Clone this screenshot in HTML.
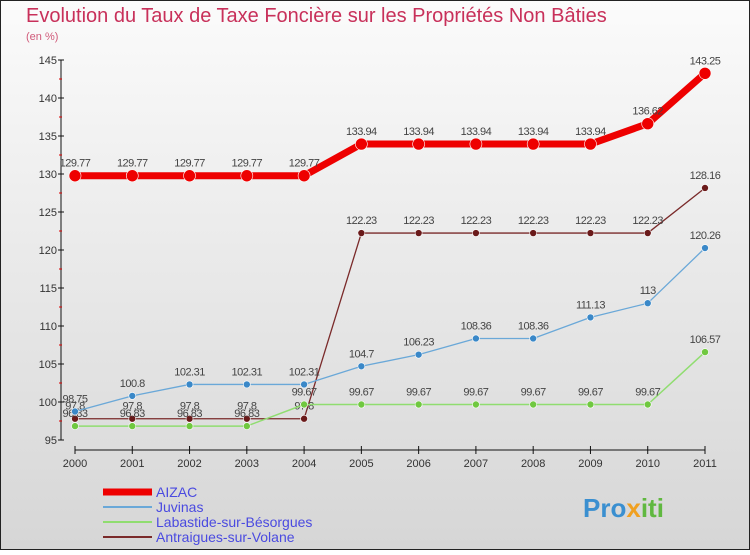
<!DOCTYPE html>
<html><head><meta charset="utf-8"><style>
body{margin:0;}
#c{position:relative;width:750px;height:550px;font-family:"Liberation Sans",sans-serif;}
</style></head><body>
<div id="c">
<svg id="s" width="750" height="550" xmlns="http://www.w3.org/2000/svg">
<defs><linearGradient id="bg" x1="0" y1="0" x2="0" y2="1"><stop offset="0" stop-color="#fbfbfb"/><stop offset="1" stop-color="#d6d6d6"/></linearGradient></defs>
<rect x="0.5" y="0.5" width="749" height="549" fill="url(#bg)" stroke="#222"/>
<text x="26" y="22" font-size="20" fill="#c8305a">Evolution du Taux de Taxe Foncière sur les Propriétés Non Bâties</text>
<text x="26" y="40" font-size="11" fill="#d05a7a">(en %)</text>
<g id="axes"></g><g id="series"></g><g id="legend"></g>
<text x="583" y="517" font-size="26" font-weight="bold" fill="#3a8fd0">Pro<tspan fill="#f0a020">x</tspan><tspan fill="#60b840">iti</tspan></text>
</svg>
</div>
<script>
const years=["2000","2001","2002","2003","2004","2005","2006","2007","2008","2009","2010","2011"];
const aizac=[129.77,129.77,129.77,129.77,129.77,133.94,133.94,133.94,133.94,133.94,136.62,143.25];
const juvinas=[98.75,100.8,102.31,102.31,102.31,104.7,106.23,108.36,108.36,111.13,113,120.26];
const labastide=[96.83,96.83,96.83,96.83,99.67,99.67,99.67,99.67,99.67,99.67,99.67,106.57];
const antraigues=[97.8,97.8,97.8,97.8,97.8,122.23,122.23,122.23,122.23,122.23,122.23,128.16];
const yTicks=[95,100,105,110,115,120,125,130,135,140,145];
const names=["AIZAC","Juvinas","Labastide-sur-Bésorgues","Antraigues-sur-Volane"];
const NS="http://www.w3.org/2000/svg";
const X=i=>75+i*(630/11), Y=v=>440-(v-95)*7.6;
function mk(t,a,p){const e=document.createElementNS(NS,t);for(const k in a)e.setAttribute(k,a[k]);p.appendChild(e);return e;}
const ax=document.getElementById('axes');
let e=mk('line',{x1:61,y1:60,x2:61,y2:440,stroke:'#111'},ax);

e=mk('line',{x1:75,y1:450,x2:705,y2:450,stroke:'#111'},ax);

yTicks.forEach((v,i)=>{mk('line',{x1:58,y1:Y(v),x2:64,y2:Y(v),stroke:'#111'},ax);
 if(i<yTicks.length-1)mk('line',{x1:59,y1:Y(v+2.5),x2:62,y2:Y(v+2.5),stroke:'#d00'},ax);
 const t=mk('text',{x:57,y:Y(v)+4,'font-size':11,fill:'#333','text-anchor':'end'},ax);t.textContent=v;
 });
years.forEach((y,i)=>{mk('line',{x1:X(i),y1:446,x2:X(i),y2:454,stroke:'#111'},ax);
 const t=mk('text',{x:X(i),y:467,'font-size':11,fill:'#333','text-anchor':'middle'},ax);t.textContent=y;
 });
const sg=document.getElementById('series');
const cfg=[[antraigues,'#7a2a2a','#6a1a1a',1.3,3.5,'series-antraigues'],[labastide,'#90dd70','#70c840',1.5,3.5,'series-labastide'],[juvinas,'#6aa8d8','#3a88c8',1.3,3.5,'series-juvinas'],[aizac,'#ee0000','#ee0000',7,6,'series-aizac']];
cfg.forEach(([d,lc,pc,w,r,n])=>{const g=mk('g',{},sg);
 mk('polyline',{points:d.map((v,i)=>X(i)+','+Y(v)).join(' '),fill:'none',stroke:lc,'stroke-width':w,'stroke-linejoin':'round'},g);
 d.forEach((v,i)=>{const c=mk('circle',{cx:X(i),cy:Y(v),r:r,fill:pc,stroke:'#fff','stroke-width':0.6},g);
  
  const t=mk('text',{x:X(i),y:Y(v)-9,'font-size':11,fill:'#444','text-anchor':'middle','letter-spacing':'-0.5'},g);t.textContent=v;});});
const lg=document.getElementById('legend');
const lcol=['#ee0000','#6aa8d8','#90dd70','#7a2a2a'],lw=[7,2,2,2];
names.forEach((n,i)=>{const y=492+i*15;const g=mk('g',{},lg);
 mk('line',{x1:103,y1:y,x2:152,y2:y,stroke:lcol[i],'stroke-width':lw[i]},g);
 const t=mk('text',{x:156,y:y+5,'font-size':14,fill:'#4a4ae0'},g);t.textContent=n;});
</script>
</body></html>
